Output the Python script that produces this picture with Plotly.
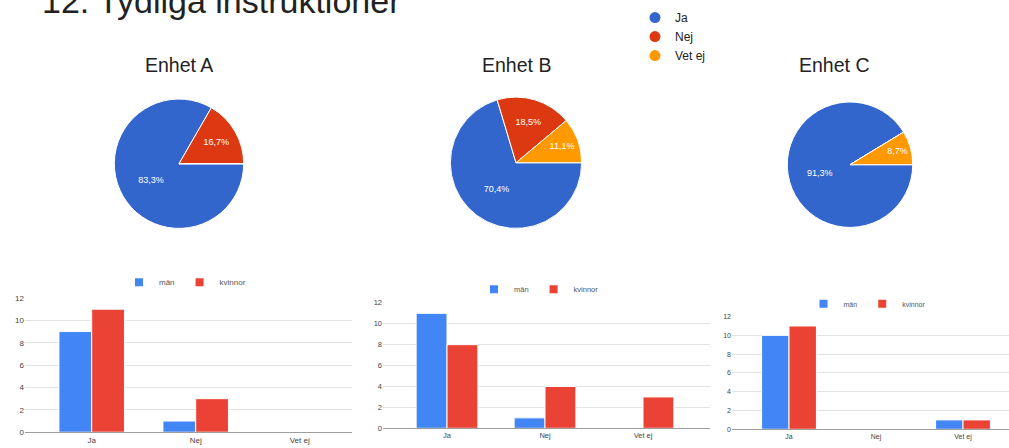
import plotly.graph_objects as go

W, H = 1009, 448

# ---------------- data ----------------
main_title = "12. Tydliga instruktioner"
units = ["Enhet A", "Enhet B", "Enhet C"]
answers = ["Ja", "Nej", "Vet ej"]
genders = ["män", "kvinnor"]

pie_a = [20, 4, 0]
pie_b = [19, 5, 3]
pie_c = [21, 0, 2]

man_a = [9, 1, 0]
kvinnor_a = [11, 3, 0]
man_b = [11, 1, 0]
kvinnor_b = [8, 4, 3]
man_c = [10, 0, 1]
kvinnor_c = [11, 0, 1]

y_ticks = [0, 2, 4, 6, 8, 10, 12]

# ---------------- styles ----------------
pie_colors = ["#3366CC", "#DC3912", "#FF9900"]
bar_colors = ["#4285F4", "#EA4335"]
FONT = "Liberation Sans, Arial, sans-serif"


def px_x(x):
    return x / W


def px_y(y):
    return 1 - y / H


def pct_text(vals):
    tot = sum(vals)
    out = []
    for v in vals:
        if v == 0:
            out.append("")
        else:
            out.append(f"{v / tot * 100:.1f}%".replace(".", ","))
    return out


fig = go.Figure()

# pies: (values, centre x, centre y, radius)
pie_specs = [(pie_a, 179, 163, 66), (pie_b, 516, 162, 67), (pie_c, 850, 164, 64)]
for vals, cx, cy, r in pie_specs:
    fig.add_trace(go.Pie(
        labels=answers, values=vals, text=pct_text(vals),
        textinfo="text", textposition="inside",
        insidetextorientation="horizontal",
        textfont=dict(size=9, color="white", family=FONT),
        marker=dict(colors=pie_colors, line=dict(color="white", width=1)),
        sort=False, direction="clockwise", rotation=90,
        domain=dict(x=[px_x(cx - r), px_x(cx + r)], y=[px_y(cy + r), px_y(cy - r)]),
        showlegend=False, hoverinfo="label+value+percent",
    ))

# legend entries for pies (circle markers)
for lab, col in zip(answers, pie_colors):
    fig.add_trace(go.Scatter(
        x=[None], y=[None], mode="markers", name=lab,
        marker=dict(symbol="circle", size=11, color=col),
        xaxis="x", yaxis="y", legend="legend", showlegend=True,
    ))

# bar charts
bar_sets = [(man_a, kvinnor_a), (man_b, kvinnor_b), (man_c, kvinnor_c)]
axis_names = [("x", "y"), ("x2", "y2"), ("x3", "y3")]
legend_names = ["legend2", "legend3", "legend4"]
for (m, k), (xa, ya), lg in zip(bar_sets, axis_names, legend_names):
    for vals, g, col in zip((m, k), genders, bar_colors):
        fig.add_trace(go.Bar(
            x=answers, y=vals, name=g, marker=dict(color=col, line=dict(color="white", width=1)),
            xaxis=xa, yaxis=ya, showlegend=False,
        ))
    for g, col in zip(genders, bar_colors):
        fig.add_trace(go.Scatter(
            x=[None], y=[None], mode="markers", name=g,
            marker=dict(symbol="square", size=8, color=col),
            xaxis=xa, yaxis=ya, legend=lg, showlegend=True,
        ))

# axis geometry per bar chart: (grid left, grid right, cat0 px, cat step, y0 px, y12 px, font)
geo = [
    (25, 352, 91.7, 104, 437, 300, 8),
    (383, 710, 447, 98, 433, 305, 7.5),
    (732, 1009, 789, 87, 434, 319, 7),
]
layout_axes = {}
for i, (gl, gr, c0, st, y0, y12, fs) in enumerate(geo):
    sx = "" if i == 0 else str(i + 1)
    layout_axes["xaxis" + sx] = dict(
        type="category", categoryorder="array", categoryarray=answers,
        domain=[px_x(gl), px_x(gr)],
        range=[(gl - c0) / st, (gr - c0) / st],
        anchor="y" + sx, showgrid=False, zeroline=False,
        showline=True, linecolor="#9e9e9e", linewidth=1,
        ticks="", tickfont=dict(size=fs, color="#444", family=FONT),
        fixedrange=True,
    )
    layout_axes["yaxis" + sx] = dict(
        domain=[px_y(y0), px_y(y12)], range=[0, 12],
        tickvals=y_ticks, anchor="x" + sx,
        showgrid=True, gridcolor="#e3e3e3", gridwidth=1,
        zeroline=False, showline=False, ticks="",
        tickfont=dict(size=fs, color="#444", family=FONT),
        fixedrange=True,
    )

legend_common = dict(bgcolor="rgba(0,0,0,0)", itemsizing="trace", itemclick=False,
                     itemdoubleclick=False)

fig.update_layout(
    width=W, height=H,
    margin=dict(l=0, r=0, t=0, b=0),
    paper_bgcolor="white", plot_bgcolor="white",
    font=dict(family=FONT, color="#222"),
    barmode="group", bargap=0.37, bargroupgap=0,
    legend=dict(orientation="v", x=px_x(635), xanchor="left", y=px_y(-1), yanchor="top",
                font=dict(size=12, color="#222", family=FONT), tracegroupgap=0, **legend_common),
    legend2=dict(orientation="h", x=px_x(185), xanchor="center", y=px_y(284), yanchor="middle",
                 font=dict(size=8, color="#555", family=FONT), **legend_common),
    legend3=dict(orientation="h", x=px_x(539), xanchor="center", y=px_y(291), yanchor="middle",
                 font=dict(size=7.5, color="#555", family=FONT), **legend_common),
    legend4=dict(orientation="h", x=px_x(867), xanchor="center", y=px_y(306), yanchor="middle",
                 font=dict(size=7, color="#555", family=FONT), **legend_common),
    **layout_axes,
)

# titles
annotations = [dict(text=main_title, x=px_x(40), y=px_y(-3), xref="paper", yref="paper",
                    xanchor="left", yanchor="middle", showarrow=False,
                    font=dict(size=34, color="#222", family=FONT))]
for name, cx in zip(units, [179, 516, 834]):
    annotations.append(dict(text=name, x=px_x(cx), y=px_y(62), xref="paper", yref="paper",
                            xanchor="center", yanchor="middle", showarrow=False,
                            font=dict(size=19.5, color="#222", family=FONT)))
fig.update_layout(annotations=annotations)

fig.write_html("out.html", post_script="document.body.style.margin='0';",
               config={"displayModeBar": False})
